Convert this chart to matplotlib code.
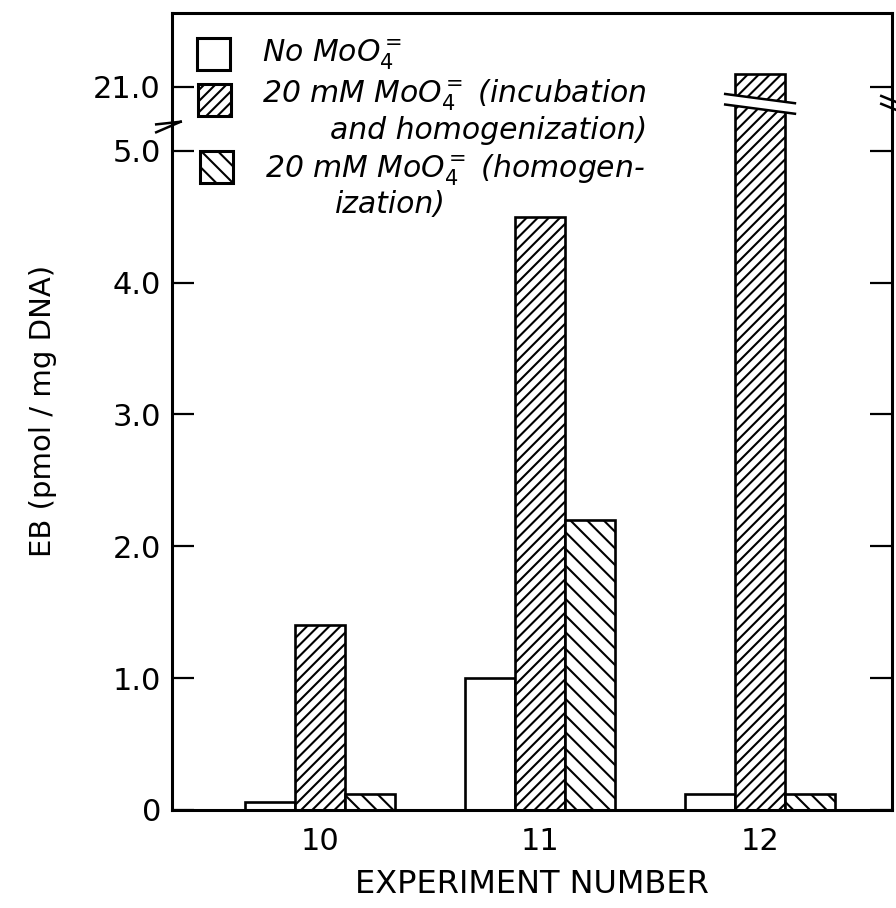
import numpy as np
import matplotlib
matplotlib.use("Agg")
import matplotlib.pyplot as plt
from matplotlib.patches import Rectangle, Polygon
from matplotlib.lines import Line2D
import matplotlib.transforms as mtransforms

# ---- data -------------------------------------------------------------
experiments = ["10", "11", "12"]
no_moo4 = [0.06, 1.0, 0.12]            # No MoO4=
moo4_incub_homog = [1.4, 4.5, 21.1]    # 20 mM MoO4= (incubation and homogenization)
moo4_homog = [0.12, 2.2, 0.12]         # 20 mM MoO4= (homogenization)

y_ticks = [0, 1, 2, 3, 4, 5, 21]
y_tick_labels = ["0", "1.0", "2.0", "3.0", "4.0", "5.0", "21.0"]

# ---- broken y axis: linear up to BREAK_LO, squeezed gap, linear again above BREAK_HI
BREAK_LO = 5.22
BREAK_HI = 20.75
SQUEEZE = 0.001
GAP_TOP = BREAK_LO + (BREAK_HI - BREAK_LO) * SQUEEZE


def fwd(y):
    y = np.asarray(y, dtype=float)
    return np.where(y <= BREAK_LO, y,
                    np.where(y < BREAK_HI, BREAK_LO + (y - BREAK_LO) * SQUEEZE,
                             GAP_TOP + (y - BREAK_HI)))


def inv(p):
    p = np.asarray(p, dtype=float)
    return np.where(p <= BREAK_LO, p,
                    np.where(p < GAP_TOP, BREAK_LO + (p - BREAK_LO) / SQUEEZE,
                             BREAK_HI + (p - GAP_TOP)))


plt.rcParams["hatch.linewidth"] = 1.5
plt.rcParams["mathtext.fontset"] = "dejavusans"

fig = plt.figure(figsize=(8.96, 9.08), dpi=100)
ax = fig.add_axes([0.192, 0.108, 0.8036, 0.8778])
ax.set_yscale("function", functions=(fwd, inv))

x = np.arange(len(experiments))
w = 0.227
lw_bar = 1.9
ax.bar(x - w, no_moo4, w, color="white", edgecolor="black", linewidth=lw_bar, zorder=2)
ax.bar(x, moo4_incub_homog, w, color="white", edgecolor="black", linewidth=lw_bar,
       hatch="///", zorder=2)
ax.bar(x + w, moo4_homog, w, color="white", edgecolor="black", linewidth=lw_bar,
       hatch="\\\\", zorder=2)

ax.set_xlim(-0.673, 2.6)
ax.set_ylim(0, 21.56)

ax.set_yticks(y_ticks)
ax.set_yticklabels(y_tick_labels)
ax.yaxis.set_minor_locator(matplotlib.ticker.NullLocator())
ax.set_xticks(x)
ax.set_xticklabels(experiments)

ax.tick_params(axis="y", which="both", direction="in", length=16, width=1.6,
               left=True, right=True, labelsize=22, pad=8)
ax.tick_params(axis="x", length=0, labelsize=22, pad=12)

for s in ax.spines.values():
    s.set_linewidth(2.2)

ax.set_xlabel("EXPERIMENT NUMBER", fontsize=23, labelpad=10)
ax.set_ylabel("EB (pmol / mg DNA)", fontsize=21, labelpad=26)

# ---- break marks -----------------------------------------------------
yb_left = BREAK_LO - 0.01
trans_l = mtransforms.blended_transform_factory(ax.transAxes, ax.transData)
for dy in (-0.03, 0.03):
    ax.add_line(Line2D([-0.022, 0.012], [yb_left + dy - 0.04, yb_left + dy + 0.04],
                       transform=trans_l, color="black", lw=1.8, clip_on=False, zorder=5))

yb = BREAK_HI + 0.12
ext = 0.045
x0 = x[2] - w / 2 - ext
x1 = x[2] + w / 2 + ext
d, s = 0.04, 0.035
band = Polygon([(x0, yb + d + s), (x1, yb + d - s), (x1, yb - d - s), (x0, yb - d + s)],
               closed=True, facecolor="white", edgecolor="none", zorder=4)
ax.add_patch(band)
for sign in (1, -1):
    ax.add_line(Line2D([x0, x1], [yb + sign * d + s, yb + sign * d - s],
                       color="black", lw=1.8, zorder=5))

for dy in (-0.03, 0.03):
    ax.add_line(Line2D([0.985, 1.012], [yb + dy + 0.03, yb + dy - 0.03],
                       transform=trans_l, color="black", lw=1.8, clip_on=False, zorder=5))

# ---- key -------------------------------------------------------------
box_w, box_h = 0.046, 0.040
key_boxes = [
    (0.035, 0.9285, None),
    (0.036, 0.8708, "///"),
    (0.039, 0.7867, "\\\\"),
]
for bx, by, hatch in key_boxes:
    ax.add_patch(Rectangle((bx, by), box_w, box_h, transform=ax.transAxes,
                           facecolor="white", edgecolor="black", linewidth=2.2,
                           hatch=hatch, zorder=3))

key_lines = [
    (0.125, 0.947, r"No MoO$_4^{=}$"),
    (0.125, 0.897, r"20 mM MoO$_4^{=}$ (incubation"),
    (0.219, 0.853, "and homogenization)"),
    (0.129, 0.803, r"20 mM MoO$_4^{=}$ (homogen-"),
    (0.226, 0.759, "ization)"),
]
for tx, ty, txt in key_lines:
    ax.text(tx, ty, txt, transform=ax.transAxes, fontsize=21.5, fontstyle="italic",
            va="center", ha="left", zorder=3)

fig.savefig("out.png", dpi=100)
